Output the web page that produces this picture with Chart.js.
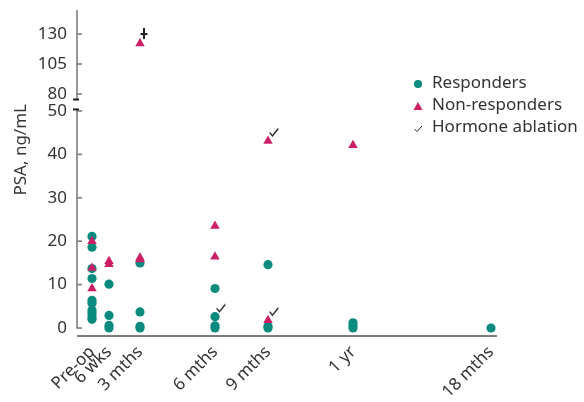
<!DOCTYPE html>
<html>
<head>
<meta charset="utf-8">
<script src="https://cdn.jsdelivr.net/npm/chart.js@4.4.1/dist/chart.umd.min.js"></script>
<style>
    html, body { margin: 0; padding: 0; background: #fff; }
    #wrap { position: relative; width: 584px; height: 402px; }
    #legend {
        position: absolute; left: 412px; top: 71px;
        font-family: 'Noto Sans', sans-serif; font-size: 17px; color: #333;
    }
    .item { height: 22px; line-height: 22px; white-space: nowrap; }
    .mark { display: inline-block; width: 20px; vertical-align: middle; }
</style>
</head>
<body>
<div id="wrap">
    <canvas id="psaChart" width="584" height="402"></canvas>
    <div id="legend"></div>
</div>
<script>
// ========== DATA ==========
const timeLabels = ['Pre-op', '6 wks', '3 mths', '6 mths', '9 mths', '1 yr', '18 mths'];
// where each time point sits along the x axis (the original spacing is not linear)
const timePos = [1.5, 3.2, 6.3, 13.8, 19.1, 27.6, 41.4];

const responders = [
    [21.1, 18.6, 13.7, 11.4, 6.4, 5.7, 4.1, 3.4, 2.6, 2.0],
    [10.1, 2.9, 0.6, 0],
    [15.0, 3.7, 0.4, 0],
    [9.1, 2.6, 0.5, 0],
    [14.6, 0.4, 0],
    [1.2, 0.6, 0],
    [0]
];
const nonResponders = [
    [20.0, 13.8, 9.1],
    [15.4, 14.7],
    [16.2, 15.8, 122],
    [23.5, 16.4],
    [43.1, 1.8],
    [42.1],
    []
];
const hormoneAblation = [
    [],
    [],
    [130],
    [2.6],
    [43.1, 1.8],
    [],
    []
];

const lowerTicks = [0, 10, 20, 30, 40, 50];
const upperTicks = [80, 105, 130];
const breakAt = 60;

const teal = '#0b8a7e';
const magenta = '#cc1f66';
const textColor = '#333';
const axisFont = { family: "'Noto Sans', sans-serif", size: 17 };

// split the grouped values into points for the lower or the upper axis part
function toPoints(groups, upper) {
    const pts = [];
    groups.forEach((vals, i) => {
        vals.forEach(v => {
            if ((v > breakAt) === upper) pts.push({ x: timePos[i], y: v });
        });
    });
    return pts;
}

// small check mark, drawn up and right of the value
function makeCheck() {
    const c = document.createElement('canvas');
    c.width = 30; c.height = 30;
    const g = c.getContext('2d');
    const cx = 21, cy = 7;
    g.strokeStyle = '#222';
    g.lineWidth = 1.3;
    g.lineCap = 'round';
    g.beginPath();
    g.moveTo(cx - 4, cy);
    g.lineTo(cx - 1.5, cy + 3);
    g.lineTo(cx + 4, cy - 4);
    g.stroke();
    return c;
}

// the mark at the top of the 3 mths column looks like a dagger
function makeDagger() {
    const c = document.createElement('canvas');
    c.width = 30; c.height = 30;
    const g = c.getContext('2d');
    const cx = 19, cy = 15;
    g.strokeStyle = '#222';
    g.lineWidth = 2;
    g.beginPath();
    g.moveTo(cx, cy - 6); g.lineTo(cx, cy + 5);
    g.moveTo(cx - 3.5, cy); g.lineTo(cx + 3.5, cy);
    g.stroke();
    return c;
}

const checkImg = makeCheck();
const daggerImg = makeDagger();

// ========== AXES DRAWING (broken y axis) ==========
const brokenAxes = {
    id: 'brokenAxes',
    afterDraw(chart) {
        const ctx = chart.ctx;
        const a = chart.chartArea;
        const lo = chart.scales.y;
        const up = chart.scales.yTop;
        const x0 = a.left;

        function line(x1, y1, x2, y2) {
            ctx.beginPath();
            ctx.moveTo(x1, y1);
            ctx.lineTo(x2, y2);
            ctx.stroke();
        }

        ctx.save();
        ctx.strokeStyle = '#7d7d7d';
        ctx.lineWidth = 1.6;

        // lower part 0-50
        const lTop = lo.getPixelForValue(50) - 1.5;
        line(x0, lTop, x0, lo.getPixelForValue(0) + 0.8);
        lowerTicks.forEach(v => {
            const py = lo.getPixelForValue(v);
            line(x0, py, x0 + 5, py);
        });

        // upper part 80-130
        const uBottom = up.getPixelForValue(80) + 5.5;
        line(x0, a.top, x0, uBottom);
        upperTicks.forEach(v => {
            const py = up.getPixelForValue(v);
            line(x0, py, x0 + 5, py);
        });

        // x axis
        ctx.lineWidth = 2;
        line(x0, a.bottom, a.right, a.bottom);

        // break marks
        ctx.strokeStyle = '#222';
        ctx.lineWidth = 2;
        line(x0 - 4, uBottom, x0 + 2, uBottom);
        line(x0 - 4, lTop, x0 + 2, lTop);
        ctx.restore();
    }
};

function yAxisBase() {
    return {
        type: 'linear',
        position: 'left',
        stack: 'psa',
        grid: { display: false, drawTicks: false },
        border: { display: false },
        ticks: { padding: 10, color: textColor, font: axisFont },
        afterFit: s => {
            s.width = 77;
            s.paddingTop = 0;
            s.paddingBottom = 0;
        }
    };
}

const yLower = Object.assign(yAxisBase(), {
    stackWeight: 232,
    min: -1.84,
    max: 51.6,
    afterBuildTicks: s => { s.ticks = lowerTicks.map(v => ({ value: v })); },
    title: {
        display: true,
        text: 'PSA, ng/mL',
        align: 'end',
        color: textColor,
        font: axisFont,
        padding: { top: 11, bottom: 0 }
    }
});

const yUpper = Object.assign(yAxisBase(), {
    stackWeight: 94,
    min: 71.7,
    max: 150,
    afterBuildTicks: s => { s.ticks = upperTicks.map(v => ({ value: v })); }
});

const ctx = document.getElementById('psaChart');

new Chart(ctx, {
    type: 'scatter',
    data: {
        datasets: [
            {
                label: 'Hormone ablation',
                data: toPoints(hormoneAblation, false),
                yAxisID: 'y',
                pointStyle: checkImg,
                clip: false
            },
            {
                label: 'Hormone ablation (upper)',
                data: toPoints(hormoneAblation, true),
                yAxisID: 'yTop',
                pointStyle: daggerImg,
                clip: false
            },
            {
                label: 'Non-responders',
                data: toPoints(nonResponders, false),
                yAxisID: 'y',
                pointStyle: 'triangle',
                pointRadius: 5.5,
                backgroundColor: magenta,
                borderColor: magenta,
                borderWidth: 0,
                clip: false
            },
            {
                label: 'Non-responders (upper)',
                data: toPoints(nonResponders, true),
                yAxisID: 'yTop',
                pointStyle: 'triangle',
                pointRadius: 5.5,
                backgroundColor: magenta,
                borderColor: magenta,
                borderWidth: 0,
                clip: false
            },
            {
                label: 'Responders',
                data: toPoints(responders, false),
                yAxisID: 'y',
                pointStyle: 'circle',
                pointRadius: 4.6,
                backgroundColor: teal,
                borderColor: teal,
                borderWidth: 0,
                clip: false
            }
        ]
    },
    options: {
        responsive: false,
        animation: false,
        events: [],
        layout: { padding: { top: 10, right: 87, left: 0, bottom: 0 } },
        plugins: {
            legend: { display: false },
            tooltip: { enabled: false }
        },
        scales: {
            x: {
                type: 'linear',
                min: 0,
                max: 42,
                grid: { display: false, drawTicks: false },
                border: { display: false },
                afterBuildTicks: s => { s.ticks = timePos.map(v => ({ value: v })); },
                afterFit: s => { s.height = 66; },
                ticks: {
                    autoSkip: false,
                    minRotation: 45,
                    maxRotation: 45,
                    padding: 6,
                    color: textColor,
                    font: axisFont,
                    callback: (value, index) => timeLabels[index]
                }
            },
            y: yLower,
            yTop: yUpper
        }
    },
    plugins: [brokenAxes]
});

// ========== LEGEND ==========
const legendItems = [
    { text: 'Responders', mark: '<svg width="12" height="12"><circle cx="6" cy="7" r="4" fill="' + teal + '"/></svg>' },
    { text: 'Non-responders', mark: '<svg width="12" height="12"><polygon points="1.5,11 10.5,11 6,3" fill="' + magenta + '"/></svg>' },
    { text: 'Hormone ablation', mark: '<svg width="12" height="12"><polyline points="2.5,8 5,10.5 10,5" fill="none" stroke="#222" stroke-width="1"/></svg>' }
];
document.getElementById('legend').innerHTML = legendItems.map(it =>
    '<div class="item"><span class="mark">' + it.mark + '</span>' + it.text + '</div>'
).join('');
</script>
</body>
</html>
